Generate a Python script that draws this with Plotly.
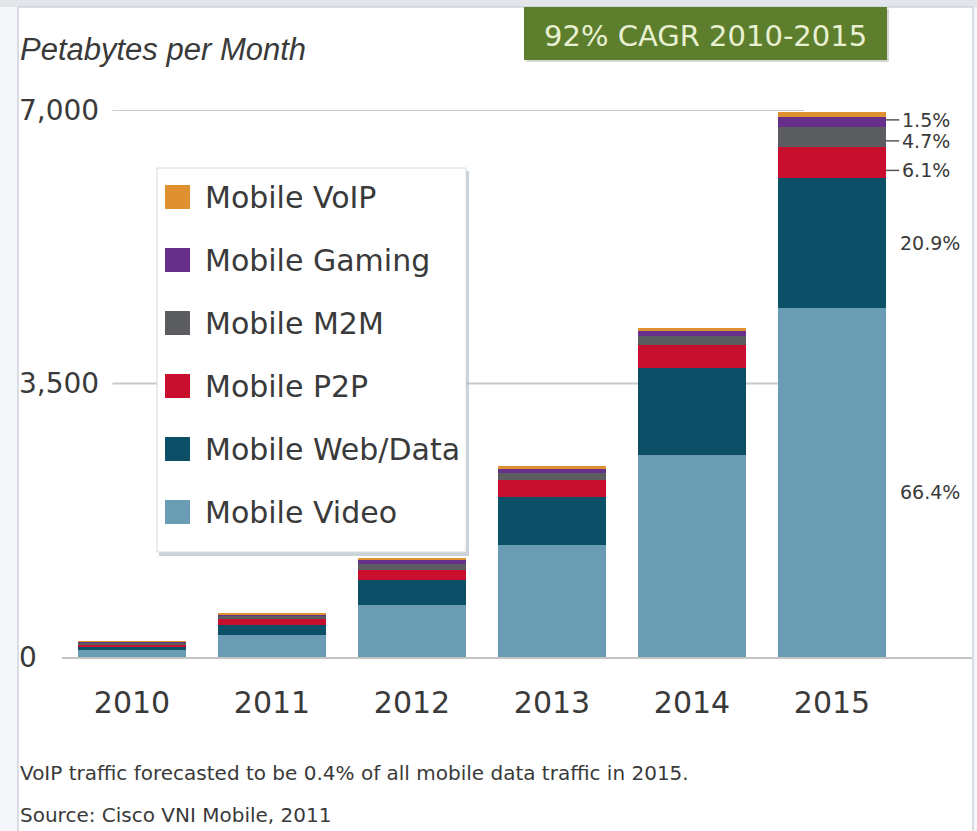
import plotly.graph_objects as go

# ---------------- data ----------------
years = ["2010", "2011", "2012", "2013", "2014", "2015"]
series_names = ["Mobile Video", "Mobile Web/Data", "Mobile P2P",
                "Mobile M2M", "Mobile Gaming", "Mobile VoIP"]
video    = [90, 280, 666, 1433, 2586, 4467]
web_data = [45, 125, 320, 614, 1114, 1664]
p2p      = [25, 75, 128, 218, 294, 397]
m2m      = [20, 45, 77, 90, 115, 256]
gaming   = [12, 25, 51, 51, 64, 128]
voip     = [8, 12, 26, 32, 38, 64]
series_values = [video, web_data, p2p, m2m, gaming, voip]
colors = ["#6a9db3", "#0b5066", "#c8102e", "#5c5d60", "#66308a", "#e0912f"]

share_labels_2015 = ["66.4%", "20.9%", "6.1%", "4.7%", "1.5%"]
leader_flags = [False, False, True, True, True]
y_ticks = [0, 3500, 7000]
y_tick_text = ["0", "3,500", "7,000"]
y_title = "Petabytes per Month"
badge_text = "92% CAGR 2010-2015"
notes = ["VoIP traffic forecasted to be 0.4% of all mobile data traffic in 2015.",
         "Source: Cisco VNI Mobile, 2011"]

# ---------------- layout geometry / style ----------------
W, H = 977, 831
ML, MR, MT, MB = 62, 5, 110, 174
PW, PH = W - ML - MR, H - MT - MB
FONT = "DejaVu Sans, Verdana, sans-serif"
FONT_T = "Liberation Sans, Arial, sans-serif"
TXT = "#3a3a3a"
label_nudge_px = [10, 0, 8, 4, -2]   # vertical nudges of share labels (px, down +)


def px(x):
    return (x - ML) / PW


def py(y):
    return (H - MB - y) / PH


fig = go.Figure()
for name, vals, col in zip(series_names, series_values, colors):
    fig.add_trace(go.Bar(x=years, y=vals, name=name, marker_color=col,
                         marker_line_width=0, showlegend=False))

shapes = []
annotations = []

# card background / frame
shapes.append(dict(type="rect", xref="paper", yref="paper", layer="below",
                   x0=px(0), x1=px(W), y0=py(0), y1=py(7),
                   fillcolor="#e2e6eb", line_width=0))
shapes.append(dict(type="rect", xref="paper", yref="paper", layer="below",
                   x0=px(18), x1=px(973), y0=py(7), y1=py(H + 20),
                   fillcolor="white", line=dict(color="#cdd4dd", width=1.5)))

# gridlines (data coordinates)
for v in y_ticks[1:]:
    shapes.append(dict(type="line", xref="x", yref="y", layer="below",
                       x0=-0.14, x1=4.8, y0=v, y1=v,
                       line=dict(color="#c9c9c9", width=2)))

# y tick labels (left aligned)
for v, t in zip(y_ticks, y_tick_text):
    annotations.append(dict(xref="paper", yref="y", x=px(17), y=v, text=t,
                            xanchor="left", yanchor="middle", showarrow=False,
                            font=dict(size=28, color=TXT, family=FONT)))

# share labels for 2015
last = len(years) - 1
cum = 0
bar_half = 0.386
ppu = PH / 7000.0
for i, lab in enumerate(share_labels_2015):
    v = series_values[i][last]
    mid = cum + v / 2
    cum += v
    ylab = mid - label_nudge_px[i] / ppu
    if leader_flags[i]:
        shapes.append(dict(type="line", xref="x", yref="y",
                           x0=last + bar_half, x1=last + 0.48, y0=ylab, y1=ylab,
                           line=dict(color="#555555", width=1.5)))
        xl = last + 0.485
    else:
        xl = last + 0.47
    annotations.append(dict(xref="x", yref="y", x=xl, y=ylab, text=lab,
                            xanchor="left", yanchor="middle", showarrow=False,
                            height=18, valign="middle",
                            font=dict(size=19, color=TXT, family=FONT)))

# title
annotations.append(dict(xref="paper", yref="paper", x=px(18), y=py(50),
                        text="<i>" + y_title + "</i>", xanchor="left",
                        yanchor="middle", showarrow=False,
                        font=dict(size=31, color=TXT, family=FONT_T)))

# CAGR badge
shapes.append(dict(type="rect", xref="paper", yref="paper", layer="above",
                   x0=px(526), x1=px(889), y0=py(9), y1=py(62),
                   fillcolor="#8a8a80", opacity=0.35, line_width=0))
shapes.append(dict(type="rect", xref="paper", yref="paper", layer="above",
                   x0=px(524), x1=px(887), y0=py(7), y1=py(60),
                   fillcolor="#5d7e2d", line_width=0))
annotations.append(dict(xref="paper", yref="paper", x=px(705), y=py(36),
                        text=badge_text, xanchor="center", yanchor="middle",
                        showarrow=False,
                        font=dict(size=29, color="#e8f0d2", family=FONT)))

# manual legend box
lx0, lx1, ly0, ly1 = 157, 466, 168, 552
shapes.append(dict(type="rect", xref="paper", yref="paper", layer="above",
                   x0=px(lx0 + 2), x1=px(lx1 + 3), y0=py(ly0 + 3), y1=py(ly1 + 4),
                   fillcolor="#aab4c2", opacity=0.6, line_width=0))
shapes.append(dict(type="rect", xref="paper", yref="paper", layer="above",
                   x0=px(lx0), x1=px(lx1), y0=py(ly0), y1=py(ly1),
                   fillcolor="white", line=dict(color="#d6dbe2", width=1)))
legend_order = list(range(len(series_names)))[::-1]
for k, idx in enumerate(legend_order):
    cy = 197 + k * 63
    shapes.append(dict(type="rect", xref="paper", yref="paper", layer="above",
                       x0=px(165), x1=px(190), y0=py(cy - 12), y1=py(cy + 12),
                       fillcolor=colors[idx], line_width=0))
    annotations.append(dict(xref="paper", yref="paper", x=px(203), y=py(cy),
                            text=series_names[idx], xanchor="left",
                            yanchor="middle", showarrow=False,
                            font=dict(size=30, color=TXT, family=FONT)))

# notes
for j, n in enumerate(notes):
    annotations.append(dict(xref="paper", yref="paper", x=px(18), y=py(773 + j * 42),
                            text=n, xanchor="left", yanchor="middle",
                            showarrow=False,
                            font=dict(size=20, color=TXT, family=FONT)))

fig.update_layout(
    width=W, height=H,
    margin=dict(l=ML, r=MR, t=MT, b=MB, pad=0),
    barmode="stack", bargap=0.229,
    paper_bgcolor="#f4f6f9", plot_bgcolor="rgba(0,0,0,0)",
    font=dict(family=FONT, color=TXT),
    shapes=shapes, annotations=annotations,
    xaxis=dict(type="category", range=[-0.5, 6.0], showgrid=False,
               showline=True, linecolor="#c4c4c4", linewidth=2,
               ticks="", ticklabelstandoff=18,
               tickfont=dict(size=30, color=TXT, family=FONT)),
    yaxis=dict(range=[0, 7000], showgrid=False, zeroline=False,
               showticklabels=False, fixedrange=True),
)

fig.write_html("out.html", config={"displayModeBar": False},
               post_script="document.body.style.margin='0';")
